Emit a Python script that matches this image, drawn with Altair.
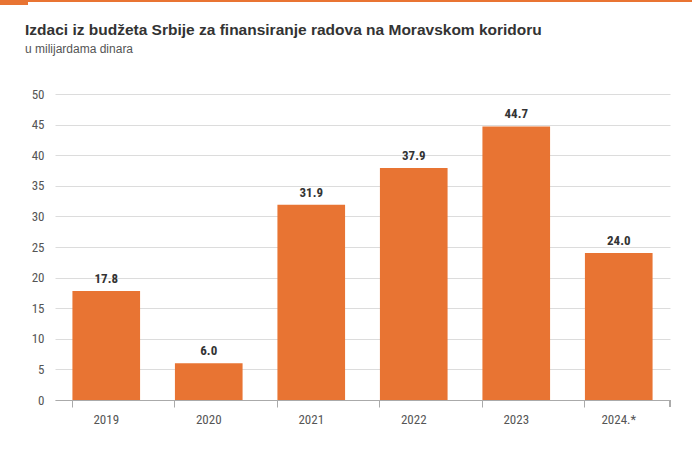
import altair as alt
import pandas as pd

years = ["2019", "2020", "2021", "2022", "2023", "2024.*"]
values = [17.8, 6.0, 31.9, 37.9, 44.7, 24.0]
labels = ["17.8", "6.0", "31.9", "37.9", "44.7", "24.0"]

df = pd.DataFrame({"year": years, "value": values, "label": labels})

ORANGE = "#E87433"
NARROW = "Roboto Condensed, Liberation Sans, sans-serif"

W, H = 615, 306

x = alt.X("year:N", sort=years, title=None,
          scale=alt.Scale(paddingInner=0.34, paddingOuter=0.17),
          axis=alt.Axis(labelAngle=0, labelFont=NARROW, labelFontSize=13,
                        labelColor="#555", labelPadding=6, domainColor="#aaa",
                        tickColor="#aaa", tickSize=7, bandPosition=0,
                        grid=False))
y = alt.Y("value:Q", title=None,
          scale=alt.Scale(domain=[0, 50], nice=False),
          axis=alt.Axis(values=list(range(0, 55, 5)), labelFont=NARROW,
                        labelFontSize=13, labelColor="#555", labelPadding=11,
                        ticks=False, domain=False, gridColor="#dcdcdc"))

base = alt.Chart(df)
bars = base.mark_bar(color=ORANGE).encode(x=x, y=y)
text = base.mark_text(dy=-12, font=NARROW, fontSize=13, fontWeight="bold",
                      color="#333").encode(x=x, y=y, text="label:N")

end_tick = alt.Chart(df).mark_rule(color="#aaa").encode(
    x=alt.value(W), y=alt.value(H), y2=alt.value(H + 7))
top_line = alt.Chart(df).mark_rule(color=ORANGE, strokeWidth=1.5).encode(
    x=alt.value(-55), x2=alt.value(692 - 55), y=alt.value(-93))
top_block = alt.Chart(df).mark_rule(color=ORANGE, strokeWidth=5).encode(
    x=alt.value(-55), x2=alt.value(28 - 55), y=alt.value(-91.5))

chart = alt.layer(bars, text, end_tick, top_line, top_block).properties(
    width=W, height=H,
    padding={"left": 55, "top": 94, "right": 22, "bottom": 61},
    autosize=alt.AutoSizeParams(type="none"),
    title=alt.TitleParams(
        "Izdaci iz budžeta Srbije za finansiranje radova na Moravskom koridoru",
        subtitle="u milijardama dinara",
        anchor="start", frame="group", dx=-30, offset=-55,
        font="Liberation Sans, Arial, sans-serif", fontSize=15.5, fontWeight="bold",
        color="#333", subtitleFont="Liberation Sans, Arial, sans-serif",
        subtitleFontSize=12, subtitleColor="#555", subtitlePadding=6),
).configure_view(stroke=None)

chart.save("out.html", embed_options={"renderer": "svg", "actions": False})
